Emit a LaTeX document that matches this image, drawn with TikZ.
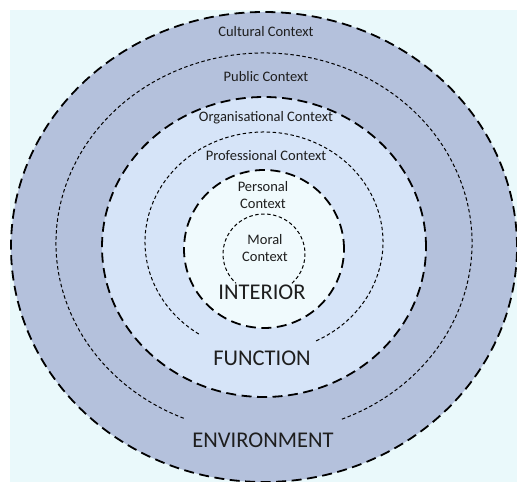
\documentclass[tikz,border=0pt]{standalone}
\usepackage{fontspec}
\setmainfont{Carlito}
\usepackage{tikz}

\definecolor{bgcyan}{RGB}{234,249,251}
\definecolor{envblue}{RGB}{180,193,220}
\definecolor{funcblue}{RGB}{214,228,248}
\definecolor{intwhite}{RGB}{240,250,253}
\definecolor{inkgray}{RGB}{30,30,30}

\tikzset{
  bigdash/.style={line width=1.8pt, dash pattern=on 10pt off 5.5pt},
  smalldash/.style={line width=1pt, dash pattern=on 3.5pt off 2.5pt},
  ctxlabel/.style={font=\fontsize{14.5}{17}\selectfont, text=inkgray, align=center, inner sep=0pt},
  zonelabel/.style={font=\fontsize{22.5}{24}\selectfont, text=inkgray, inner sep=0pt}
}

\begin{document}
\begin{tikzpicture}[x=1pt,y=1pt]
    \useasboundingbox (0,0) rectangle (517,482);
    % Background
    \fill[bgcyan] (10,0) rectangle (517,472);

    % Environment: cultural and public contexts
    \draw[bigdash, fill=envblue] (264,235) ellipse (253 and 235);
    \draw[smalldash] (264,239) ++(-68:208 and 190) arc (-68:248:208 and 190);
    \node[ctxlabel] (cultural) at (266,450) {Cultural Context};
    \node[ctxlabel] (public) at (266,405) {Public Context};
    \node[zonelabel] (environment) at (263,42) {ENVIRONMENT};

    % Function: organisational and professional contexts
    \draw[bigdash, fill=funcblue] (264,235) ellipse (162 and 150);
    \draw[smalldash] (264,240) ++(-64:119 and 110) arc (-64:237:119 and 110);
    \node[ctxlabel] (organisational) at (266,364) {Organisational Context};
    \node[ctxlabel] (professional) at (266,326) {Professional Context};
    \node[zonelabel] (function) at (262,124) {FUNCTION};

    % Interior: personal and moral contexts
    \draw[bigdash, fill=intwhite] (264,233) ellipse (80 and 79);
    \draw[smalldash] (264,228) ++(-47:41 and 40) arc (-47:227:41 and 40);
    \node[ctxlabel] (personal) at (263,287) {Personal\\Context};
    \node[ctxlabel] (moral) at (265,234) {Moral\\Context};
    \node[zonelabel] (interior) at (262,190) {INTERIOR};
\end{tikzpicture}
\end{document}
